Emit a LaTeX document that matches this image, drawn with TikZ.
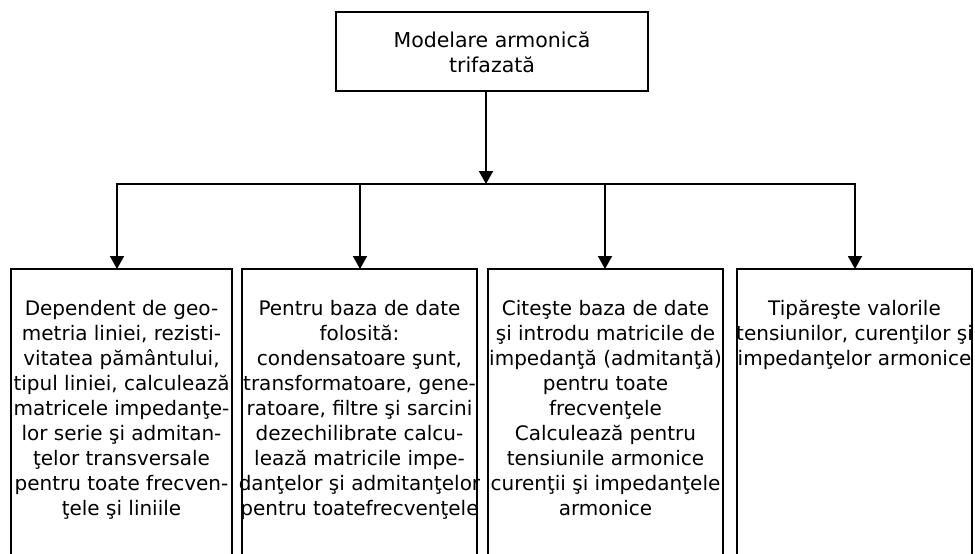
\documentclass[tikz,border=0pt]{standalone}
\usepackage{fontspec}
\setmainfont{DejaVu Sans}
\usetikzlibrary{arrows.meta}
\begin{document}
\begin{tikzpicture}[x=1pt,y=-1pt,
  box/.style={draw, line width=2pt, inner sep=0pt, outer sep=0pt},
  txt/.style={anchor=north, inner sep=0pt, align=center,
              font=\fontsize{20}{25}\selectfont},
  link/.style={line width=1.9pt},
  arr/.style={link, -{Triangle[length=13pt,width=14pt]}}]
\useasboundingbox (0,0) rectangle (975,554);
\clip (0,0) rectangle (975,554);

% root box
\node[box, minimum width=312pt, minimum height=79pt] (top) at (492,51.5) {};
\node[txt, font=\fontsize{20.5}{25}\selectfont] (toptxt) at (492,27)
  {\rule{0pt}{20pt}Modelare armonică\\trifazată};

% the four tall boxes (their lower edges run off the page)
\node[box, minimum width=221pt, minimum height=311pt] (b1) at (121.5,424.5) {};
\node[box, minimum width=235pt, minimum height=311pt] (b2) at (359.5,424.5) {};
\node[box, minimum width=235pt, minimum height=311pt] (b3) at (605.5,424.5) {};
\node[box, minimum width=235pt, minimum height=311pt] (b4) at (854.5,424.5) {};

\node[txt] (t1) at (121.5,295) {\rule{0pt}{20pt}Dependent de geo-\\
  metria liniei, rezisti-\\
  vitatea pământului,\\
  tipul liniei, calculează\\
  matricele impedanţe-\\
  lor serie şi admitan-\\
  ţelor transversale\\
  pentru toate frecven-\\
  ţele şi liniile};

\node[txt] (t2) at (359.5,295) {\rule{0pt}{20pt}Pentru baza de date\\
  folosită:\\
  condensatoare şunt,\\
  transformatoare, gene-\\
  ratoare, filtre şi sarcini\\
  dezechilibrate calcu-\\
  lează matricile impe-\\
  danţelor şi admitanţelor\\
  pentru toatefrecvenţele};

\node[txt] (t3) at (605.5,295) {\rule{0pt}{20pt}Citeşte baza de date\\
  şi introdu matricile de\\
  impedanţă (admitanţă)\\
  pentru toate\\
  frecvenţele\\
  Calculează pentru\\
  tensiunile armonice\\
  curenţii şi impedanţele\\
  armonice};

\node[txt] (t4) at (854.5,295) {\rule{0pt}{20pt}Tipăreşte valorile\\
  tensiunilor, curenţilor şi\\
  impedanţelor armonice};

% distribution bus
\coordinate (jt) at (486,184);
\coordinate (j1) at (117,184);
\coordinate (j2) at (360,184);
\coordinate (j3) at (605,184);
\coordinate (j4) at (855,184);

\draw[link, line cap=rect] (j1) -- (j4);
\draw[arr] (top.south -| jt) -- (jt);
\foreach \i in {1,2,3,4}
  \draw[arr] (j\i) -- (j\i |- b\i.north);
\end{tikzpicture}
\end{document}
